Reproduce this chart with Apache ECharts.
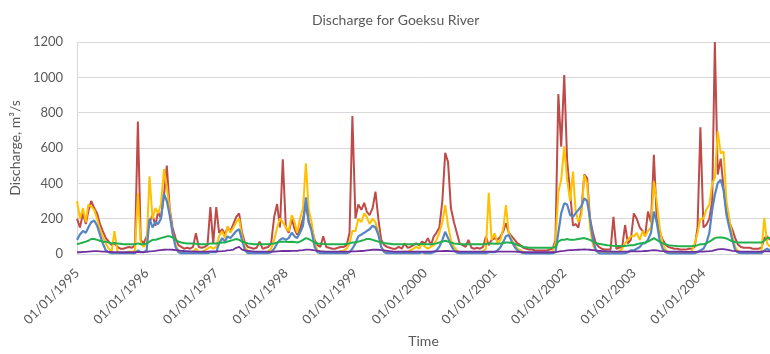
<!DOCTYPE html>
<html>
<head>
<meta charset="utf-8">
<script src="https://cdn.jsdelivr.net/npm/echarts@6/dist/echarts.min.js"></script>
<style>
  html, body { margin: 0; padding: 0; background: #fff; }
  #chart { width: 770px; height: 354px; }
</style>
</head>
<body>
<div id="chart"></div>
<script>
// Years covered; each year is sampled on the 1st and 16th of every month.
const years = [1995, 1996, 1997, 1998, 1999, 2000, 2001, 2002, 2003, 2004];
const sampleDays = [1, 16];

// Discharge, m3/s (24 samples per year, one row per year)
const redFlow = [
  200, 150, 230, 170, 240, 300, 260, 230, 170, 130, 90, 70, 50, 60, 40, 30, 30, 35, 40, 35, 50, 750, 80, 60,
  100, 180, 220, 160, 240, 200, 330, 500, 260, 150, 90, 50, 40, 30, 35, 30, 40, 118, 40, 35, 40, 50, 266, 60,
  266, 120, 140, 110, 150, 130, 170, 210, 230, 120, 60, 40, 35, 30, 35, 70, 30, 35, 40, 60, 211, 283, 150, 536,
  150, 120, 200, 140, 110, 140, 200, 280, 180, 150, 80, 50, 40, 100, 40, 35, 30, 30, 35, 40, 40, 50, 120, 781,
  200, 280, 250, 290, 240, 220, 260, 353, 200, 80, 50, 40, 35, 30, 30, 40, 30, 60, 35, 40, 50, 60, 50, 70,
  60, 90, 50, 100, 120, 150, 300, 573, 520, 260, 180, 120, 60, 50, 40, 80, 35, 30, 35, 30, 40, 98, 50, 80,
  90, 80, 100, 130, 174, 120, 100, 80, 60, 50, 35, 30, 25, 25, 20, 20, 20, 20, 20, 25, 30, 80, 905, 607,
  1013, 530, 343, 160, 170, 150, 250, 450, 430, 200, 117, 60, 40, 30, 25, 25, 25, 211, 30, 35, 40, 164, 60, 80,
  230, 200, 150, 130, 100, 240, 180, 562, 200, 128, 80, 53, 40, 35, 30, 30, 25, 25, 25, 30, 30, 40, 150, 717,
  150, 165, 200, 300, 1200, 450, 540, 370, 240, 180, 138, 90, 53, 40, 35, 35, 35, 30, 30, 30, 35, 90, 100, 80
];
const yellowFlow = [
  300, 200, 260, 180, 280, 270, 250, 200, 140, 100, 60, 30, 10, 130, 15, 5, 5, 10, 15, 10, 20, 345, 60, 40,
  60, 440, 200, 260, 230, 280, 480, 380, 250, 120, 50, 20, 10, 10, 5, 5, 10, 30, 10, 10, 20, 30, 40, 30,
  40, 100, 130, 90, 158, 120, 150, 180, 200, 100, 40, 15, 10, 8, 8, 10, 8, 10, 15, 30, 80, 150, 200, 180,
  150, 130, 220, 180, 120, 200, 260, 513, 250, 180, 60, 20, 10, 15, 10, 8, 8, 10, 12, 15, 20, 30, 60, 130,
  130, 200, 180, 230, 210, 170, 200, 180, 120, 40, 15, 10, 8, 8, 8, 10, 10, 15, 12, 20, 30, 40, 30, 60,
  40, 30, 40, 50, 80, 120, 180, 277, 160, 80, 40, 20, 10, 10, 8, 8, 8, 8, 10, 10, 15, 30, 347, 80,
  117, 60, 80, 150, 277, 120, 80, 50, 30, 20, 10, 8, 5, 5, 5, 5, 5, 5, 5, 8, 15, 60, 350, 420,
  610, 420, 300, 466, 250, 180, 220, 447, 400, 150, 50, 20, 10, 5, 5, 5, 5, 10, 10, 15, 30, 60, 80, 100,
  100, 120, 80, 130, 100, 130, 150, 411, 300, 150, 60, 25, 10, 8, 5, 5, 5, 5, 5, 10, 15, 60, 119, 200,
  200, 250, 280, 400, 430, 694, 570, 580, 300, 200, 100, 40, 15, 10, 8, 8, 8, 8, 10, 10, 15, 204, 60, 40
];
const blueFlow = [
  80, 110, 130, 120, 150, 180, 190, 160, 110, 60, 20, 10, 5, 5, 5, 5, 5, 5, 5, 5, 5, 20, 10, 10,
  20, 200, 150, 180, 170, 200, 340, 300, 220, 120, 40, 10, 5, 5, 5, 5, 5, 5, 5, 5, 5, 5, 10, 10,
  10, 60, 90, 70, 100, 90, 110, 130, 140, 80, 20, 5, 5, 5, 5, 5, 5, 5, 5, 10, 30, 60, 80, 90,
  80, 90, 120, 100, 90, 120, 160, 320, 180, 130, 40, 10, 5, 5, 5, 5, 5, 5, 5, 5, 5, 5, 10, 30,
  60, 100, 110, 120, 130, 140, 160, 150, 110, 40, 10, 5, 5, 5, 5, 5, 5, 5, 5, 5, 5, 5, 5, 10,
  5, 5, 5, 10, 20, 40, 80, 126, 90, 50, 20, 8, 5, 5, 5, 5, 5, 5, 5, 5, 5, 5, 10, 10,
  10, 20, 40, 70, 100, 108, 70, 40, 20, 10, 5, 3, 3, 3, 3, 3, 3, 3, 3, 3, 5, 10, 120, 230,
  287, 280, 220, 211, 230, 250, 270, 315, 300, 200, 80, 20, 5, 3, 3, 3, 3, 3, 3, 3, 3, 5, 10, 20,
  20, 30, 40, 60, 60, 80, 120, 240, 180, 80, 30, 10, 5, 3, 3, 3, 3, 3, 3, 3, 3, 5, 10, 20,
  30, 60, 120, 250, 335, 400, 420, 360, 222, 150, 80, 20, 8, 5, 5, 5, 5, 5, 5, 5, 5, 20, 30, 20
];
const greenFlow = [
  55, 60, 65, 70, 75, 85, 85, 80, 75, 70, 70, 65, 60, 62, 60, 58, 55, 55, 55, 55, 55, 60, 55, 55,
  60, 70, 80, 80, 85, 90, 95, 100, 100, 95, 80, 70, 65, 62, 60, 60, 60, 58, 57, 55, 55, 55, 60, 60,
  60, 62, 65, 65, 70, 75, 80, 85, 80, 70, 65, 60, 58, 55, 55, 55, 55, 55, 55, 58, 60, 65, 70, 70,
  70, 68, 70, 68, 65, 70, 80, 90, 85, 75, 65, 60, 58, 56, 55, 55, 55, 55, 55, 55, 55, 58, 60, 65,
  65, 70, 75, 80, 85, 85, 80, 75, 70, 65, 62, 60, 58, 55, 55, 55, 55, 55, 55, 55, 55, 55, 55, 58,
  55, 55, 55, 58, 60, 65, 70, 75, 70, 65, 60, 58, 56, 55, 55, 55, 55, 55, 55, 55, 55, 56, 60, 60,
  58, 58, 60, 62, 65, 65, 62, 58, 50, 45, 40, 38, 36, 35, 35, 35, 35, 35, 35, 35, 36, 40, 70, 80,
  80, 85, 80, 80, 82, 85, 88, 90, 85, 80, 70, 62, 58, 55, 52, 50, 48, 46, 45, 45, 45, 45, 48, 50,
  50, 55, 60, 62, 65, 70, 80, 90, 80, 70, 60, 55, 50, 48, 46, 45, 44, 44, 44, 44, 45, 46, 50, 55,
  55, 60, 70, 80, 90, 94, 94, 92, 88, 80, 72, 68, 65, 65, 65, 65, 65, 65, 65, 65, 65, 75, 90, 90
];
const purpleFlow = [
  10, 10, 12, 12, 14, 15, 16, 16, 15, 14, 13, 12, 12, 11, 11, 10, 10, 10, 10, 10, 10, 12, 11, 11,
  12, 15, 16, 18, 20, 22, 24, 25, 25, 24, 22, 20, 18, 17, 16, 15, 15, 14, 14, 14, 14, 14, 15, 15,
  15, 15, 16, 18, 20, 22, 25, 35, 40, 25, 20, 18, 16, 15, 14, 14, 13, 13, 13, 13, 14, 15, 16, 17,
  17, 17, 18, 18, 18, 20, 22, 25, 25, 23, 20, 18, 16, 15, 14, 14, 13, 13, 13, 13, 13, 13, 14, 15,
  15, 16, 17, 18, 20, 22, 24, 25, 24, 22, 20, 18, 16, 15, 14, 14, 13, 13, 13, 13, 13, 13, 13, 14,
  14, 14, 14, 15, 15, 16, 17, 18, 17, 16, 15, 15, 14, 14, 14, 13, 13, 13, 13, 13, 13, 14, 14, 14,
  14, 14, 14, 14, 14, 14, 13, 13, 12, 12, 11, 11, 10, 10, 10, 10, 10, 10, 10, 10, 10, 11, 14, 16,
  18, 20, 22, 22, 23, 24, 25, 26, 25, 24, 22, 20, 18, 17, 16, 15, 15, 14, 14, 14, 14, 14, 14, 15,
  15, 15, 15, 16, 17, 18, 20, 22, 20, 18, 16, 15, 14, 14, 13, 13, 13, 12, 12, 12, 12, 12, 13, 13,
  14, 15, 16, 18, 22, 26, 28, 28, 25, 22, 18, 16, 15, 14, 14, 14, 14, 14, 14, 14, 14, 15, 15, 15
];

const yTicks = { min: 0, max: 1200, step: 200 };
const textColor = '#595959';
const fontFamily = 'Lato, "Open Sans", sans-serif';

// Sample dates expressed as fractional years so that each 1 January sits on an integer.
const sampleX = [];
years.forEach(y => {
  const start = Date.UTC(y, 0, 1);
  const span = Date.UTC(y + 1, 0, 1) - start;
  for (let m = 0; m < 12; m++) {
    sampleDays.forEach(d => {
      sampleX.push(y + (Date.UTC(y, m, d) - start) / span);
    });
  }
});

const pair = arr => arr.map((v, i) => [sampleX[i], v]);

const lines = [
  { data: redFlow, color: '#BE4B48', width: 2 },
  { data: yellowFlow, color: '#FFC000', width: 2 },
  { data: blueFlow, color: '#5585C5', width: 2.2 },
  { data: greenFlow, color: '#21B04B', width: 2 },
  { data: purpleFlow, color: '#7030A0', width: 1.8 }
];

const chart = echarts.init(document.getElementById('chart'), null, { renderer: 'canvas' });
chart.setOption({
  animation: false,
  backgroundColor: '#ffffff',
  title: {
    text: 'Discharge for Goeksu River',
    left: 307,
    top: 8,
    textStyle: { color: textColor, fontSize: 14, fontWeight: 'normal', fontFamily }
  },
  grid: { left: 73, right: 0, top: 42, bottom: 100, containLabel: false },
  xAxis: {
    type: 'value',
    min: years[0],
    max: sampleX[sampleX.length - 1],
    interval: 1,
    name: 'Time',
    nameLocation: 'middle',
    nameGap: 80,
    nameTextStyle: { color: textColor, fontSize: 14, fontFamily },
    axisLine: { show: true, lineStyle: { color: '#d9d9d9' } },
    axisTick: { show: false },
    splitLine: { show: false },
    axisLabel: {
      rotate: 45,
      margin: 17,
      showMaxLabel: false,
      color: textColor,
      fontSize: 13,
      fontFamily,
      formatter: v => (Number.isInteger(v) ? '01/01/' + v : '')
    }
  },
  yAxis: {
    type: 'value',
    min: yTicks.min,
    max: yTicks.max,
    interval: yTicks.step,
    name: 'Discharge, m\u00B3/s',
    nameLocation: 'middle',
    nameGap: 47,
    nameTextStyle: { color: textColor, fontSize: 14, fontFamily },
    axisLine: { show: true, lineStyle: { color: '#d9d9d9' } },
    axisTick: { show: false },
    axisLabel: { color: textColor, fontSize: 13, fontFamily, margin: 14, formatter: v => String(v) },
    splitLine: { lineStyle: { color: '#d9d9d9', width: 1 } }
  },
  series: lines.map(s => ({
    type: 'line',
    data: pair(s.data),
    showSymbol: false,
    symbol: 'none',
    lineStyle: { color: s.color, width: s.width },
    itemStyle: { color: s.color },
    clip: true
  }))
});
</script>
</body>
</html>
